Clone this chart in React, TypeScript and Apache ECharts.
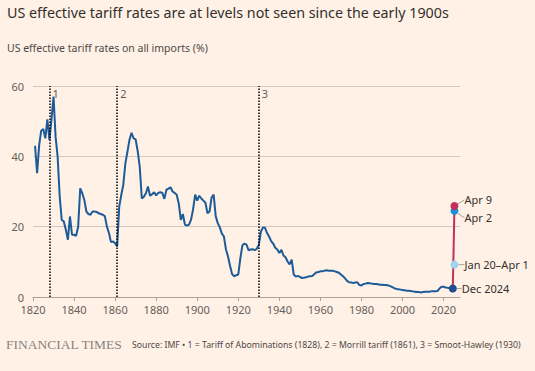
import React, { useEffect, useRef } from "react";
import * as echarts from "echarts";

const years: number[] = [
  1821, 1822, 1823, 1824, 1825, 1826, 1827, 1828, 1829, 1830,
  1831, 1832, 1833, 1834, 1835, 1836, 1837, 1838, 1839, 1840,
  1841, 1842, 1843, 1844, 1845, 1846, 1847, 1848, 1849, 1850,
  1851, 1852, 1853, 1854, 1855, 1856, 1857, 1858, 1859, 1860,
  1861, 1862, 1863, 1864, 1865, 1866, 1867, 1868, 1869, 1870,
  1871, 1872, 1873, 1874, 1875, 1876, 1877, 1878, 1879, 1880,
  1881, 1882, 1883, 1884, 1885, 1886, 1887, 1888, 1889, 1890,
  1891, 1892, 1893, 1894, 1895, 1896, 1897, 1898, 1899, 1900,
  1901, 1902, 1903, 1904, 1905, 1906, 1907, 1908, 1909, 1910,
  1911, 1912, 1913, 1914, 1915, 1916, 1917, 1918, 1919, 1920,
  1921, 1922, 1923, 1924, 1925, 1926, 1927, 1928, 1929, 1930,
  1931, 1932, 1933, 1934, 1935, 1936, 1937, 1938, 1939, 1940,
  1941, 1942, 1943, 1944, 1945, 1946, 1947, 1948, 1949, 1950,
  1951, 1952, 1953, 1954, 1955, 1956, 1957, 1958, 1959, 1960,
  1961, 1962, 1963, 1964, 1965, 1966, 1967, 1968, 1969, 1970,
  1971, 1972, 1973, 1974, 1975, 1976, 1977, 1978, 1979, 1980,
  1981, 1982, 1983, 1984, 1985, 1986, 1987, 1988, 1989, 1990,
  1991, 1992, 1993, 1994, 1995, 1996, 1997, 1998, 1999, 2000,
  2001, 2002, 2003, 2004, 2005, 2006, 2007, 2008, 2009, 2010,
  2011, 2012, 2013, 2014, 2015, 2016, 2017, 2018, 2019, 2020,
  2021, 2022, 2023, 2024.5,
];

const tariffRates: number[] = [
  43.0, 35.2, 43.2, 47.3, 47.8, 45.1, 50.5, 44.7, 50.5, 57.0,
  45.6, 39.9, 28.6, 21.9, 21.5, 19.1, 16.3, 22.9, 17.7, 17.7,
  17.4, 20.0, 30.9, 29.5, 27.6, 24.3, 23.6, 23.4, 24.3, 24.3,
  24.2, 23.8, 23.6, 23.4, 23.0, 20.0, 18.2, 15.6, 15.8, 15.3,
  14.4, 25.7, 29.0, 32.0, 38.0, 41.3, 44.7, 46.7, 45.1, 44.8,
  41.5, 37.0, 28.0, 28.5, 29.5, 31.4, 28.8, 29.2, 29.8, 28.9,
  29.6, 29.8, 29.6, 27.9, 30.5, 30.8, 31.2, 30.0, 29.6, 29.1,
  26.6, 21.9, 23.6, 20.6, 20.3, 20.6, 22.0, 25.0, 29.1, 27.4,
  28.8, 28.0, 27.4, 26.8, 23.8, 24.3, 28.3, 29.1, 23.0, 21.0,
  19.8, 18.0, 17.2, 13.5, 11.5, 8.8, 6.5, 5.9, 6.2, 6.4,
  11.0, 14.7, 15.2, 14.9, 13.3, 13.5, 13.6, 13.3, 13.7, 14.8,
  18.5, 19.8, 19.7, 18.2, 17.2, 15.9, 15.2, 14.0, 13.5, 12.5,
  13.4, 11.8, 11.3, 10.1, 9.3, 10.6, 6.4, 5.8, 6.0, 5.7,
  5.4, 5.5, 5.6, 5.8, 5.9, 6.0, 6.5, 7.0, 7.1, 7.3,
  7.3, 7.5, 7.6, 7.5, 7.5, 7.5, 7.3, 7.1, 6.9, 6.4,
  5.9, 5.3, 4.6, 4.2, 4.1, 4.0, 4.1, 4.2, 3.4, 3.3,
  3.7, 3.8, 4.0, 3.9, 3.8, 3.7, 3.7, 3.6, 3.5, 3.5,
  3.4, 3.4, 3.3, 3.1, 2.8, 2.5, 2.3, 2.2, 2.1, 2.0,
  1.9, 1.8, 1.8, 1.7, 1.6, 1.5, 1.4, 1.4, 1.3, 1.4,
  1.5, 1.5, 1.5, 1.6, 1.6, 1.6, 1.7, 2.4, 2.9, 2.9,
  2.7, 2.6, 2.5, 2.4,
];

// 2025 estimates
const pointLabels: string[] = ["Dec 2024", "Jan 20\u2013Apr 1", "Apr 2", "Apr 9"];
const pointYears: number[] = [2024.5, 2025.3, 2025.3, 2025.3];
const pointValues: number[] = [2.4, 9.2, 24.5, 25.9];
const pointColors: string[] = ["#1c4f8c", "#9fd4ec", "#1f8fd6", "#c0305c"];

// Tariff acts
const actYears: number[] = [1828, 1861, 1930];
const actLabels: string[] = ["1", "2", "3"];

const xTicks: number[] = [1820, 1840, 1860, 1880, 1900, 1920, 1940, 1960, 1980, 2000, 2020];

const TITLE = "US effective tariff rates are at levels not seen since the early 1900s";
const SUBTITLE = "US effective tariff rates on all imports (%)";
const SOURCE =
  "Source: IMF \u2022 1 = Tariff of Abominations (1828), 2 = Morrill tariff (1861), 3 = Smoot-Hawley (1930)";

const FONT = "'Noto Sans', sans-serif";

export default function App() {
  const ref = useRef<HTMLDivElement>(null);

  useEffect(() => {
    if (!ref.current) return;
    const chart = echarts.init(ref.current, undefined, { renderer: "svg" });

    const history = years.map((y, i) => [y, tariffRates[i]]);
    const jump = [
      [pointYears[0], pointValues[0]],
      [pointYears[3], pointValues[3]],
    ];

    const labelLayouts = [
      { dx: 2, dy: 0 },
      { dx: 3, dy: 0 },
      { dx: 3, dy: 7 },
      { dx: 3, dy: -6 },
    ];

    const pointSeries = pointLabels.map((lab, i) => ({
      type: "scatter",
      z: 10,
      symbolSize: 8,
      data: [[pointYears[i], pointValues[i]]],
      itemStyle: { color: pointColors[i], opacity: 1 },
      label: {
        show: true,
        position: "right",
        distance: 3,
        formatter: lab,
        color: "#33302e",
        fontSize: 11,
        fontFamily: FONT,
      },
      labelLayout: labelLayouts[i],
      labelLine: { show: true, lineStyle: { color: "#a8a099", width: 1 } },
    }));

    chart.setOption({
      animation: false,
      backgroundColor: "#fff1e5",
      textStyle: { fontFamily: FONT },
      title: [
        {
          text: TITLE,
          left: 7,
          top: 5,
          padding: 0,
          textStyle: { fontSize: 14.3, fontWeight: "normal", color: "#33302e", fontFamily: FONT },
        },
        {
          text: SUBTITLE,
          left: 7,
          top: 42,
          padding: 0,
          textStyle: { fontSize: 10.5, fontWeight: "normal", color: "#4d4845", fontFamily: FONT },
        },
        {
          text: "FINANCIAL TIMES",
          left: 6,
          top: 337,
          padding: 0,
          textStyle: {
            fontSize: 13.5,
            fontWeight: "normal",
            color: "#8a837e",
            fontFamily: "'Liberation Serif', serif",
          },
        },
        {
          text: SOURCE,
          left: 132,
          top: 340,
          padding: 0,
          textStyle: { fontSize: 8.7, fontWeight: "normal", color: "#4d4845", fontFamily: FONT },
        },
      ],
      grid: { left: 33, right: 75, top: 86, bottom: 74 },
      xAxis: {
        type: "value",
        min: 1820,
        max: 2028,
        interval: 20,
        axisLine: { show: true, lineStyle: { color: "#a9a19a", width: 1 } },
        axisTick: {
          show: true,
          length: 4,
          lineStyle: { color: "#a9a19a" },
          customValues: xTicks,
        },
        axisLabel: {
          color: "#66605c",
          fontSize: 11,
          margin: 7,
          fontFamily: FONT,
          customValues: xTicks,
          formatter: (v: number) => String(v),
        },
        splitLine: { show: false },
      },
      yAxis: {
        type: "value",
        min: 0,
        max: 60,
        interval: 20,
        axisLine: { show: false },
        axisTick: { show: false },
        axisLabel: { color: "#66605c", fontSize: 11, margin: 9, fontFamily: FONT },
        splitLine: { show: true, lineStyle: { color: "#d3c8bd", width: 1 } },
      },
      series: [
        {
          type: "line",
          data: history,
          showSymbol: false,
          lineStyle: { color: "#1d5b98", width: 2 },
          z: 3,
          markLine: {
            silent: true,
            symbol: "none",
            label: { show: false },
            lineStyle: { color: "#000", type: [1.5, 1.5], width: 1.5 },
            data: actYears.map((y) => ({ xAxis: y })),
          },
        },
        {
          type: "line",
          data: jump,
          showSymbol: false,
          lineStyle: { color: "#c0305c", width: 2 },
          z: 4,
        },
        {
          type: "scatter",
          data: actYears.map((y) => [y, 58]),
          symbolSize: 0,
          label: {
            show: true,
            position: "right",
            distance: 3,
            color: "#33302e",
            fontSize: 11,
            fontFamily: FONT,
            formatter: (p: any) => actLabels[p.dataIndex],
          },
        },
        ...pointSeries,
      ],
    });

    return () => chart.dispose();
  }, []);

  return (
    <div
      ref={ref}
      style={{ position: "fixed", left: 0, top: 0, width: 535, height: 371 }}
    />
  );
}
